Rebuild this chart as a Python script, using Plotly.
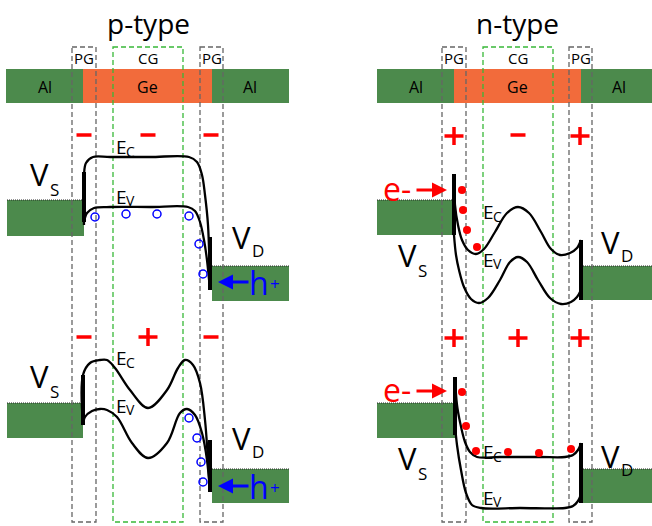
import plotly.graph_objects as go

# ---------------- data (schematic coordinates, pixel-like units) ----------------
panel_titles = ["p-type", "n-type"]
title_x = [148, 517]

bar_labels = ["Al", "Ge", "Al", "Al", "Ge", "Al"]
bar_x0 = [6, 83, 212, 377, 454, 581]
bar_x1 = [83, 212, 289, 454, 581, 652]
bar_text_x = [45, 147, 250, 416, 517, 619]

gate_labels = ["PG", "CG", "PG", "PG", "CG", "PG"]
gate_x0 = [72, 113, 200, 442, 483, 569]
gate_x1 = [96, 183, 223, 466, 553, 592]

# source / drain contact blocks
contact_x0 = [7, 212, 7, 212, 377, 581, 377, 581]
contact_x1 = [84, 289, 83, 289, 454, 652, 455, 652]
contact_y0 = [200, 266, 403, 469, 200, 266, 403, 469]
contact_y1 = [236, 301, 438, 503, 235, 300, 438, 503]

# gate charges
charge_x = [84, 148, 211, 454, 518, 580, 84, 148, 211, 454, 518, 580]
charge_y = [135, 135, 135, 136, 135, 136, 337, 337, 337, 338, 338, 338]
charge_sign = ["-", "-", "-", "+", "-", "+", "-", "+", "-", "+", "+", "+"]

# band edges: p-type, PG negative / CG negative
ec_p1_x = [84, 84, 86, 93, 110, 150, 189, 197, 202, 205, 208, 210]
ec_p1_y = [225, 175, 163, 157, 157, 157, 157, 162, 175, 195, 225, 290]
ev_p1_x = [84, 87, 94, 110, 150, 188, 195, 200, 204, 207, 210]
ev_p1_y = [222, 213, 208, 207, 207, 207, 211, 222, 240, 260, 290]

# p-type, PG negative / CG positive
ec_p2_x = [83, 83, 90, 100, 107, 115, 130, 148, 167, 178, 185, 193, 200, 205, 208, 210]
ec_p2_y = [425, 375, 363, 360, 360, 368, 390, 408, 390, 368, 360, 365, 383, 420, 460, 492]
ev_p2_x = [83, 85, 92, 100, 107, 117, 132, 148, 167, 180, 187, 195, 202, 207, 210]
ev_p2_y = [425, 417, 411, 409, 410, 417, 443, 458, 443, 413, 409, 415, 433, 460, 492]

# n-type, PG positive / CG negative
ec_n1_x = [454, 455, 458, 462, 468, 476, 484, 495, 507, 518, 529, 541, 551, 560, 570, 577, 581]
ec_n1_y = [175, 205, 225, 240, 250, 254, 249, 232, 213, 207, 213, 232, 249, 255, 253, 248, 240]
ev_n1_x = [454, 456, 459, 464, 471, 479, 488, 500, 510, 518, 527, 538, 550, 561, 571, 577, 581]
ev_n1_y = [235, 255, 270, 287, 299, 303, 298, 280, 262, 257, 262, 280, 298, 304, 302, 297, 290]

# n-type, PG positive / CG positive
ec_n2_x = [455, 457, 460, 465, 470, 477, 500, 540, 565, 573, 578, 581]
ec_n2_y = [377, 405, 422, 442, 452, 457, 457, 457, 457, 455, 450, 443]
ev_n2_x = [455, 457, 461, 466, 472, 481, 520, 565, 573, 578, 581]
ev_n2_y = [425, 445, 470, 493, 505, 508, 508, 508, 506, 501, 494]

# thick vertical band segments at the metal contacts
thick_x = [84, 210, 83, 210, 454, 581, 455, 581]
thick_y0 = [172, 237, 375, 440, 174, 240, 377, 443]
thick_y1 = [222, 290, 425, 492, 235, 300, 435, 503]

# carriers
holes_x = [95, 126, 157, 189, 199, 203, 189, 197, 201, 203]
holes_y = [217, 214, 214, 216, 244, 274, 418, 438, 462, 482]
elec_x = [462, 463, 467, 477, 462, 466, 476, 508, 539, 571]
elec_y = [190, 210, 230, 247, 392, 426, 451, 452, 453, 449]

# labels
vs_x = [39, 39, 407, 407]
vs_y = [174, 376, 255, 458]
vd_x = [241, 241, 610, 610]
vd_y = [237, 438, 242, 456]
ec_lab_x = [121, 121, 488, 488]
ec_lab_y = [147, 358, 212, 452]
ev_lab_x = [121, 121, 488, 488]
ev_lab_y = [197, 406, 260, 498]

hplus_y = [282, 486]
eminus_y = [190, 391]

# ---------------- figure ----------------
FONT = "Open Sans, Noto Sans, DejaVu Sans, sans-serif"
GREEN = "#4c8a4c"
ORANGE = "#f26b3b"
RED = "#ff0000"
BLUE = "#0000ff"

fig = go.Figure()
shapes = []
annotations = []


def text(x, y, s, size, color="black", xanchor="center"):
    annotations.append(dict(x=x, y=y, xref="x", yref="y", text=s, showarrow=False,
                            font=dict(family=FONT, size=size, color=color),
                            xanchor=xanchor, yanchor="middle"))


# material bar
for lab, x0, x1, tx in zip(bar_labels, bar_x0, bar_x1, bar_text_x):
    shapes.append(dict(type="rect", x0=x0, x1=x1, y0=69, y1=103, xref="x", yref="y",
                       fillcolor=GREEN if lab == "Al" else ORANGE, line=dict(width=0), layer="below"))
    text(tx, 87, lab, 16)

# contacts
for x0, x1, y0, y1 in zip(contact_x0, contact_x1, contact_y0, contact_y1):
    shapes.append(dict(type="rect", x0=x0, x1=x1, y0=y0, y1=y1, xref="x", yref="y",
                       fillcolor=GREEN, line=dict(width=0), layer="below"))
    shapes.append(dict(type="line", x0=x0, x1=x1, y0=y0, y1=y0, xref="x", yref="y",
                       line=dict(color="rgb(40,40,40)", width=1, dash="1px,1px"), layer="below"))

# gate boxes
for lab, x0, x1 in zip(gate_labels, gate_x0, gate_x1):
    col = "#38b838" if lab == "CG" else "#666666"
    shapes.append(dict(type="rect", x0=x0, x1=x1, y0=47, y1=522, xref="x", yref="y",
                       line=dict(color=col, width=1.3, dash="5px,3px"), fillcolor="rgba(0,0,0,0)",
                       layer="below"))
    text((x0 + x1) / 2, 58, lab, 15)

# charges
for cx, cy, sg in zip(charge_x, charge_y, charge_sign):
    if sg == "-":
        shapes.append(dict(type="line", x0=cx - 7.5, x1=cx + 7.5, y0=cy, y1=cy, xref="x", yref="y",
                           line=dict(color=RED, width=3.5)))
    else:
        shapes.append(dict(type="line", x0=cx - 9.5, x1=cx + 9.5, y0=cy, y1=cy, xref="x", yref="y",
                           line=dict(color=RED, width=3.5)))
        shapes.append(dict(type="line", x0=cx, x1=cx, y0=cy - 9, y1=cy + 9, xref="x", yref="y",
                           line=dict(color=RED, width=3.5)))

# band curves
for xs, ys in [(ec_p1_x, ec_p1_y), (ev_p1_x, ev_p1_y), (ec_p2_x, ec_p2_y), (ev_p2_x, ev_p2_y),
               (ec_n1_x, ec_n1_y), (ev_n1_x, ev_n1_y), (ec_n2_x, ec_n2_y), (ev_n2_x, ev_n2_y)]:
    fig.add_trace(go.Scatter(x=xs, y=ys, mode="lines", hoverinfo="skip",
                             line=dict(color="black", width=2.3, shape="spline", smoothing=1.0)))

for tx, y0, y1 in zip(thick_x, thick_y0, thick_y1):
    fig.add_trace(go.Scatter(x=[tx, tx], y=[y0, y1], mode="lines", hoverinfo="skip",
                             line=dict(color="black", width=4)))

fig.add_trace(go.Scatter(x=holes_x, y=holes_y, mode="markers", hoverinfo="skip",
                         marker=dict(symbol="circle-open", size=8, color=BLUE, line=dict(width=1.5, color=BLUE))))
fig.add_trace(go.Scatter(x=elec_x, y=elec_y, mode="markers", hoverinfo="skip",
                         marker=dict(symbol="circle", size=8, color=RED)))

# titles
for t, tx in zip(panel_titles, title_x):
    text(tx, 23, t, 28)

# V_S, V_D, E_C, E_V labels
for x, y in zip(vs_x, vs_y):
    text(x, y, "V", 31)
    text(x + 15, y + 15, "S", 17)
for x, y in zip(vd_x, vd_y):
    text(x, y, "V", 31)
    text(x + 17, y + 13, "D", 17)
for x, y in zip(ec_lab_x, ec_lab_y):
    text(x, y, "E", 19)
    text(x + 9, y + 4, "C", 14)
for x, y in zip(ev_lab_x, ev_lab_y):
    text(x, y, "E", 19)
    text(x + 9, y + 3, "V", 14)

# hole injection arrows
for y in hplus_y:
    annotations.append(dict(x=218, y=y, ax=250, ay=y, xref="x", yref="y", axref="x", ayref="y",
                            text="", showarrow=True, arrowhead=2, arrowsize=1, arrowwidth=3,
                            arrowcolor=BLUE))
    text(259, y, "h", 32, BLUE)
    text(275, y + 1, "+", 17, BLUE)

# electron injection arrows
for y in eminus_y:
    annotations.append(dict(x=447, y=y, ax=415, ay=y, xref="x", yref="y", axref="x", ayref="y",
                            text="", showarrow=True, arrowhead=2, arrowsize=1, arrowwidth=3,
                            arrowcolor=RED))
    text(397, y - 2, "e-", 32, RED)

fig.update_layout(
    width=652, height=526,
    margin=dict(l=0, r=0, t=0, b=0),
    paper_bgcolor="white", plot_bgcolor="white",
    showlegend=False,
    shapes=shapes, annotations=annotations,
    xaxis=dict(range=[0, 652], visible=False, fixedrange=True),
    yaxis=dict(range=[526, 0], visible=False, fixedrange=True),
)

fig.write_html("out.html", config={"displayModeBar": False, "staticPlot": True},
               post_script="document.body.style.margin='0px';document.body.style.overflow='hidden';")
